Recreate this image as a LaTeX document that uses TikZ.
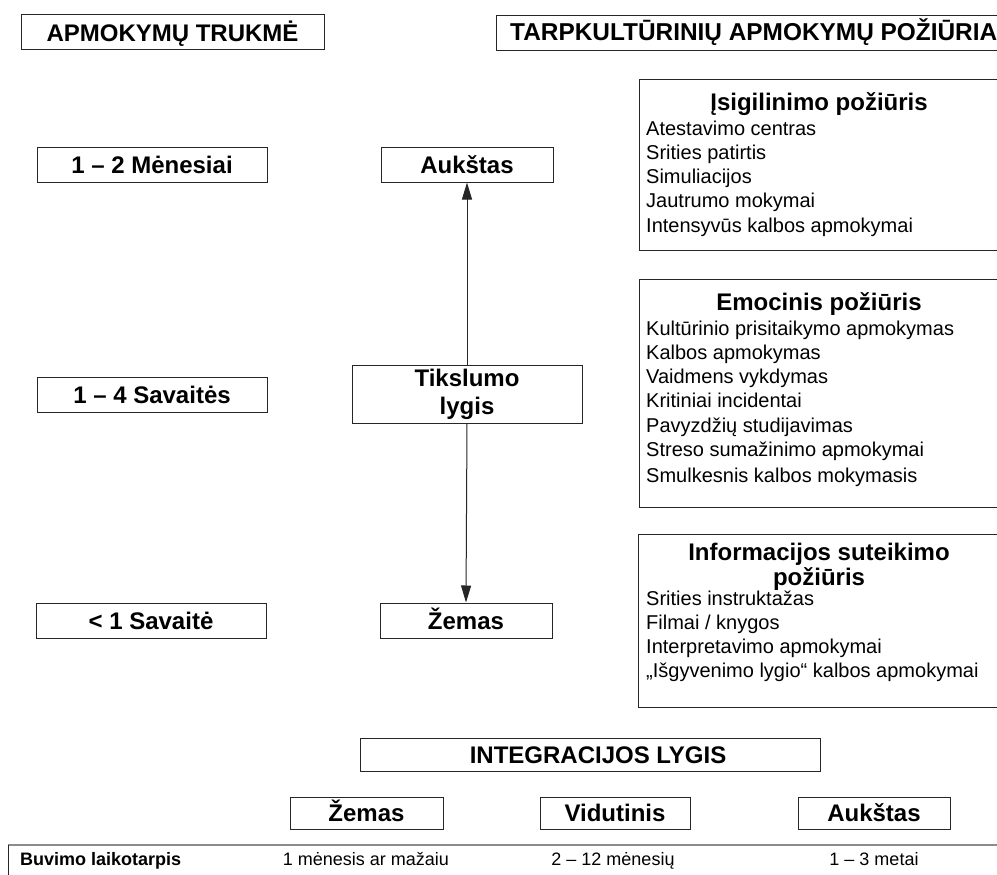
\documentclass[tikz,border=0pt]{standalone}
\usepackage{fontspec}
\setmainfont{Liberation Sans}
\usetikzlibrary{arrows.meta}
\tikzset{
  frame/.style={draw=black!85, line width=1pt, inner sep=0pt},
  boxlabel/.style={frame, font=\fontsize{24}{28}\selectfont\bfseries,
    text height=17.2pt, text depth=0pt},
  hdr/.style={font=\fontsize{24}{25}\selectfont\bfseries, inner sep=0pt, align=center},
  body/.style={font=\fontsize{20}{24.2}\selectfont, align=left, inner sep=0pt},
  rowtext/.style={font=\fontsize{18}{22}\selectfont, inner sep=0pt},
  arr/.style={line width=1pt, draw=black!85, -{Triangle[length=17pt,width=10pt]}},
}
\begin{document}
\begin{tikzpicture}[x=1pt,y=-1pt]
\clip (0,0) rectangle (997,875);
\fill[white] (0,0) rectangle (997,875);

% column headings
\node[boxlabel, minimum width=303, minimum height=35] (trukme) at (172.5,32.5) {APMOKYMŲ TRUKMĖ};
\node[frame, minimum width=530, minimum height=35, anchor=north west] (pozbox) at (496,15) {};
\node[hdr, font=\fontsize{24.4}{25}\selectfont\bfseries, anchor=base west] (poz) at (510,41) {TARPKULTŪRINIŲ APMOKYMŲ POŽIŪRIAI};

% training duration
\node[boxlabel, minimum width=230, minimum height=35] (men) at (152,165) {1 – 2 Mėnesiai};
\node[boxlabel, minimum width=230, minimum height=35] (sav) at (152,394.5) {1 – 4 Savaitės};
\node[boxlabel, minimum width=230, minimum height=35] (ltsav) at (151,621) {< 1 Savaitė};

% rigour scale
\node[boxlabel, minimum width=172, minimum height=35] (auk) at (467,164.5) {Aukštas};
\node[frame, hdr, minimum width=230, minimum height=58, font=\fontsize{24}{28}\selectfont\bfseries] (tik) at (467,394) {Tikslumo\\lygis};
\node[boxlabel, minimum width=172, minimum height=35] (zem) at (466,620.5) {Žemas};
\draw[arr] (tik.north) -- (auk.south);
\draw[arr] (tik.south) -- (zem.north);

% approaches
\node[frame, minimum width=370, minimum height=171, anchor=north west] (isig) at (639,79) {};
\node[hdr, anchor=base] (isigh) at (819,110.5) {Įsigilinimo požiūris};
\node[body, anchor=base west] (isigb) at (646,232) {Atestavimo centras\\Srities patirtis\\Simuliacijos\\Jautrumo mokymai\\Intensyvūs kalbos apmokymai};

\node[frame, minimum width=370, minimum height=228, anchor=north west] (emo) at (639,279) {};
\node[hdr, anchor=base] (emoh) at (819,310) {Emocinis požiūris};
\node[body, anchor=base west] (emob) at (646,482.4) {Kultūrinio prisitaikymo apmokymas\\Kalbos apmokymas\\Vaidmens vykdymas\\Kritiniai incidentai\\Pavyzdžių studijavimas\\Streso sumažinimo apmokymai\\[2pt]Smulkesnis kalbos mokymasis};

\node[frame, minimum width=371, minimum height=173, anchor=north west] (inf) at (638,534) {};
\node[hdr, anchor=base] (infh) at (819,585.6) {Informacijos suteikimo\\požiūris};
\node[body, anchor=base west] (infb) at (646,677.8) {Srities instruktažas\\Filmai / knygos\\Interpretavimo apmokymai\\„Išgyvenimo lygio“ kalbos apmokymai};

% integration level
\node[frame, minimum width=460, minimum height=33] (integ) at (590,754.5) {};
\node[hdr, anchor=base] (integt) at (598,763) {INTEGRACIJOS LYGIS};
\node[boxlabel, minimum width=153, minimum height=32] (lvl1) at (366.5,813) {Žemas};
\node[boxlabel, minimum width=150, minimum height=32] (lvl2) at (615,813) {Vidutinis};
\node[boxlabel, minimum width=152, minimum height=32] (lvl3) at (874,813) {Aukštas};

% length-of-stay row
\coordinate (rowl) at (8,845);
\coordinate (rowr) at (997,845);
\coordinate (rowb) at (8,875);
\draw[black!45, line width=2pt] (rowl) -- (rowr);
\draw[black!85, line width=1pt] (rowl) -- (rowb);
\node[rowtext, font=\fontsize{18}{22}\selectfont\bfseries, anchor=base west] (buv) at (20,865) {Buvimo laikotarpis};
\node[rowtext, anchor=base] (st1) at (366,865) {1 mėnesis ar mažaiu};
\node[rowtext, anchor=base] (st2) at (613,865) {2 – 12 mėnesių};
\node[rowtext, anchor=base] (st3) at (874,865) {1 – 3 metai};
\end{tikzpicture}
\end{document}
